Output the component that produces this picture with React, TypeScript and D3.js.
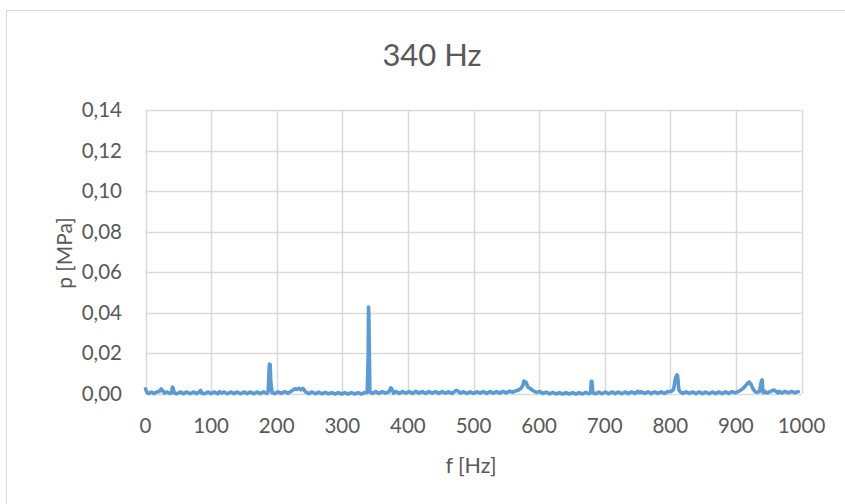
import React from "react";
import * as d3 from "d3";

const title = "340 Hz";
const xLabel = "f [Hz]";
const yLabel = "p [MPa]";
const xTicks = [0, 100, 200, 300, 400, 500, 600, 700, 800, 900, 1000];
const yTicks = [0, 0.02, 0.04, 0.06, 0.08, 0.1, 0.12, 0.14];

const freq = [
  0, 2, 5, 9, 13, 17, 21, 24, 26, 29, 33, 37, 40, 41, 42, 44, 48, 53, 58, 63, 68, 73, 78, 82, 84, 86, 90,
  95, 100, 105, 110, 113, 116, 120, 125, 130, 135, 140, 145, 150, 155, 160, 165, 170, 175, 180, 185, 187,
  188, 189, 190, 191, 193, 197, 202, 207, 212, 217, 222, 225, 228, 231, 234, 237, 240, 244, 249, 254, 259,
  264, 269, 274, 279, 284, 289, 294, 299, 304, 309, 314, 319, 324, 329, 334, 338, 339.5, 340, 340.5, 342,
  346, 351, 356, 361, 366, 371, 374, 376, 378, 382, 387, 392, 397, 402, 407, 412, 417, 422, 427, 432, 437,
  442, 447, 452, 457, 462, 467, 471, 473, 476, 480, 485, 490, 495, 500, 505, 510, 515, 520, 525, 530, 535,
  540, 545, 550, 555, 560, 565, 569, 572, 575, 577, 580, 583, 587, 591, 596, 601, 606, 611, 616, 621, 626,
  631, 636, 641, 646, 651, 656, 661, 666, 671, 676, 678.5, 679.5, 680.5, 682, 686, 691, 696, 701, 706, 711,
  716, 721, 726, 731, 736, 741, 746, 751, 753, 756, 761, 766, 771, 776, 781, 786, 791, 796, 801, 805, 808,
  810, 811, 812, 813, 815, 819, 824, 829, 834, 839, 844, 849, 854, 859, 864, 869, 874, 879, 884, 889, 894,
  899, 904, 909, 913, 917, 920, 923, 926, 929, 932, 936, 939, 940, 941, 942, 944, 948, 953, 958, 962, 964,
  966, 970, 975, 980, 985, 990, 995, 1000,
];

const pressure = [
  0.0025, 0.0009, 0.0002, 0.0010, 0.0002, 0.0010, 0.0012, 0.0025, 0.0018, 0.0004, 0.0010, 0.0002, 0.0008,
  0.0034, 0.0030, 0.0005, 0.0001, 0.0010, 0.0002, 0.0010, 0.0001, 0.0010, 0.0002, 0.0010, 0.0018, 0.0004,
  0.0001, 0.0010, 0.0002, 0.0010, 0.0001, 0.0012, 0.0004, 0.0010, 0.0001, 0.0010, 0.0002, 0.0010, 0.0001,
  0.0010, 0.0002, 0.0010, 0.0001, 0.0010, 0.0002, 0.0010, 0.0003, 0.0010, 0.0090, 0.0148, 0.0145, 0.0060,
  0.0006, 0.0002, 0.0011, 0.0003, 0.0012, 0.0004, 0.0014, 0.0020, 0.0026, 0.0022, 0.0028, 0.0020, 0.0028,
  0.0010, 0.0002, 0.0010, 0.0001, 0.0009, 0.0001, 0.0008, 0.0001, 0.0007, 0.0000, 0.0007, 0.0000, 0.0007,
  0.0000, 0.0007, 0.0000, 0.0007, 0.0000, 0.0007, 0.0008, 0.0200, 0.0429, 0.0380, 0.0009, 0.0003, 0.0012,
  0.0003, 0.0012, 0.0004, 0.0011, 0.0030, 0.0022, 0.0004, 0.0012, 0.0003, 0.0012, 0.0004, 0.0012, 0.0003,
  0.0013, 0.0004, 0.0012, 0.0003, 0.0012, 0.0004, 0.0012, 0.0003, 0.0012, 0.0004, 0.0011, 0.0003, 0.0011,
  0.0017, 0.0015, 0.0004, 0.0011, 0.0003, 0.0011, 0.0003, 0.0011, 0.0004, 0.0012, 0.0003, 0.0012, 0.0004,
  0.0012, 0.0004, 0.0013, 0.0005, 0.0014, 0.0009, 0.0016, 0.0020, 0.0028, 0.0040, 0.0064, 0.0058, 0.0034,
  0.0026, 0.0016, 0.0008, 0.0012, 0.0003, 0.0009, 0.0001, 0.0008, 0.0000, 0.0007, 0.0000, 0.0007, 0.0000,
  0.0007, 0.0000, 0.0007, 0.0000, 0.0008, 0.0001, 0.0006, 0.0062, 0.0062, 0.0006, 0.0001, 0.0009, 0.0001,
  0.0010, 0.0001, 0.0010, 0.0002, 0.0010, 0.0001, 0.0010, 0.0002, 0.0011, 0.0003, 0.0013, 0.0007, 0.0011,
  0.0003, 0.0011, 0.0002, 0.0011, 0.0003, 0.0011, 0.0003, 0.0012, 0.0012, 0.0022, 0.0080, 0.0094, 0.0092,
  0.0060, 0.0020, 0.0011, 0.0003, 0.0011, 0.0003, 0.0010, 0.0002, 0.0010, 0.0002, 0.0010, 0.0001, 0.0010,
  0.0002, 0.0010, 0.0002, 0.0011, 0.0003, 0.0012, 0.0006, 0.0013, 0.0022, 0.0034, 0.0050, 0.0059, 0.0048,
  0.0026, 0.0012, 0.0008, 0.0012, 0.0066, 0.0069, 0.0020, 0.0006, 0.0013, 0.0005, 0.0013, 0.0020, 0.0011,
  0.0005, 0.0013, 0.0005, 0.0013, 0.0006, 0.0013, 0.0006, 0.0012,
];

const W = 845;
const H = 504;
const FONT = "Lato, 'Open Sans', sans-serif";
const TEXT = "#595959";

export default function App() {
  const x = d3.scaleLinear().domain([0, 1000]).range([145.5, 801.5]);
  const y = d3.scaleLinear().domain([0, 0.14]).range([394, 110]);
  const pts: [number, number][] = freq.map((f, i) => [f, pressure[i]]);
  const line = d3
    .line<[number, number]>()
    .x((d) => x(d[0]))
    .y((d) => y(d[1]));
  const fmt = (v: number) => v.toFixed(2).replace(".", ",");

  return (
    <svg
      width={W}
      height={H}
      style={{ position: "absolute", left: 0, top: 0, display: "block" }}
    >
      <rect x={0} y={0} width={W} height={H} fill="#ffffff" />
      <rect x={6.5} y={10.5} width={900} height={600} fill="#ffffff" stroke="#D9D9D9" strokeWidth={1} />
      <text x={432} y={66} textAnchor="middle" fontFamily={FONT} fontSize={31} fill={TEXT}>
        {title}
      </text>
      {yTicks.map((t) => (
        <line key={"gy" + t} x1={x(0)} x2={x(1000)} y1={Math.round(y(t)) + 0.5} y2={Math.round(y(t)) + 0.5} stroke="#D9D9D9" strokeWidth={1.5} />
      ))}
      {xTicks.map((t) => (
        <line key={"gx" + t} x1={Math.round(x(t)) + 0.5} x2={Math.round(x(t)) + 0.5} y1={y(0.14)} y2={y(0)} stroke="#D9D9D9" strokeWidth={1.5} />
      ))}
      <path d={line(pts) || ""} fill="none" stroke="#5B9BD5" strokeWidth={3.6} strokeLinejoin="round" strokeLinecap="round" />
      {yTicks.map((t) => (
        <text key={"ty" + t} x={122} y={y(t) + 7} textAnchor="end" fontFamily={FONT} fontSize={20.5} fill={TEXT}>
          {fmt(t)}
        </text>
      ))}
      {xTicks.map((t) => (
        <text key={"tx" + t} x={x(t)} y={433} textAnchor="middle" fontFamily={FONT} fontSize={20.5} fill={TEXT}>
          {t}
        </text>
      ))}
      <text x={471} y={473} textAnchor="middle" fontFamily={FONT} fontSize={21.5} fill={TEXT}>
        {xLabel}
      </text>
      <text
        transform={`translate(72,253) rotate(-90)`}
        textAnchor="middle"
        fontFamily={FONT}
        fontSize={21}
        fill={TEXT}
      >
        {yLabel}
      </text>
    </svg>
  );
}
